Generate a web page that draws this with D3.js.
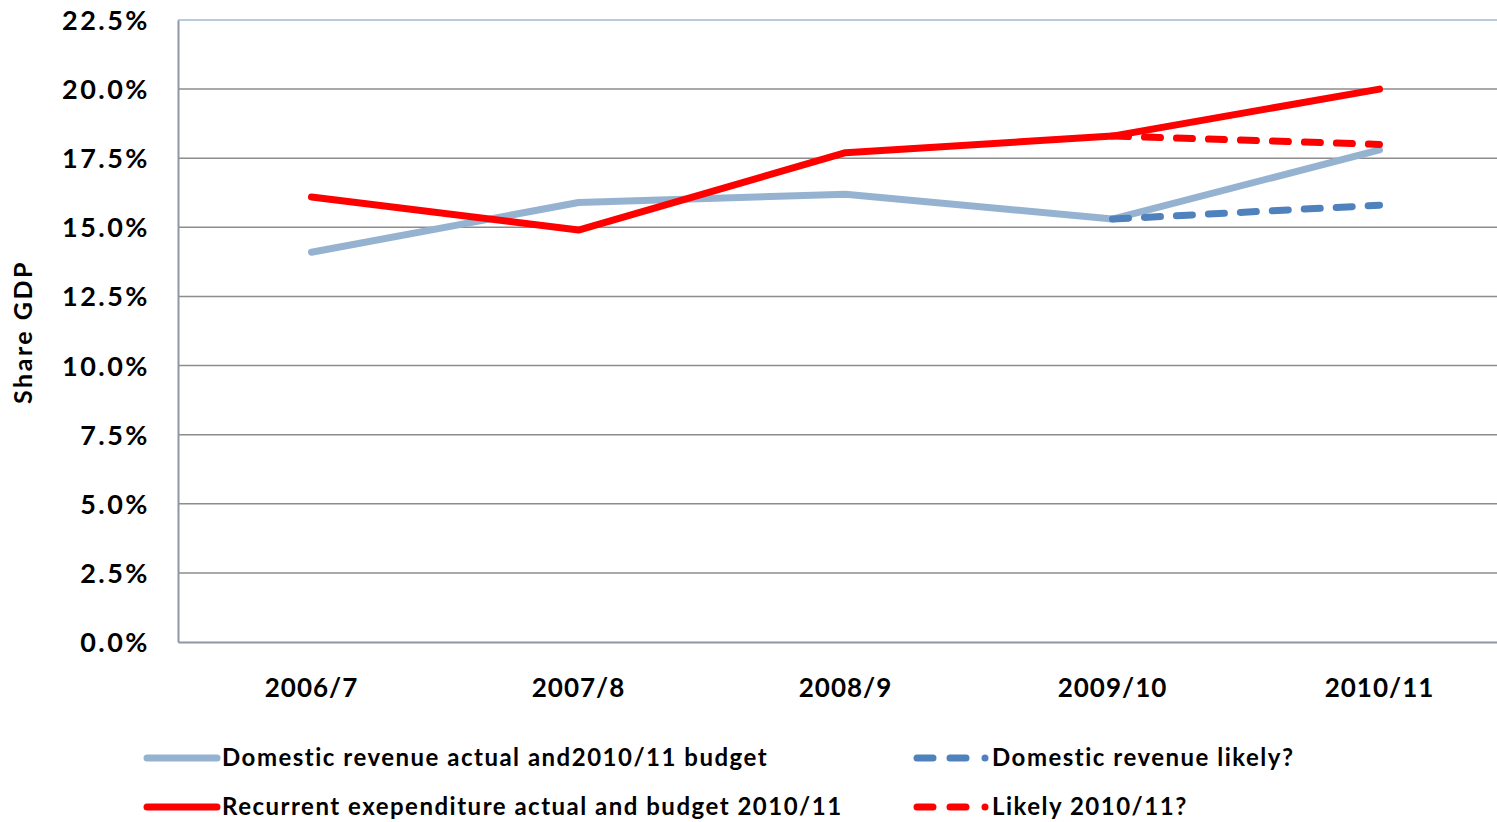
<!DOCTYPE html>
<html>
<head>
<meta charset="utf-8">
<script src="https://cdn.jsdelivr.net/npm/d3@7"></script>
<style>
  body { margin: 0; background: #fff; }
  svg text { font-family: "Lato", "DejaVu Sans", sans-serif; font-weight: 700; fill: #000; }
</style>
</head>
<body>
<div id="chart"></div>
<script>
// data (share of GDP, %)
const years = ["2006/7", "2007/8", "2008/9", "2009/10", "2010/11"];
const revenue = [14.1, 15.9, 16.2, 15.3, 17.8];
const expenditure = [16.1, 14.9, 17.7, 18.3, 20.0];
const revenueLikely = [null, null, null, 15.3, 15.8];
const expenditureLikely = [null, null, null, 18.3, 18.0];
const yTicks = [0, 2.5, 5, 7.5, 10, 12.5, 15, 17.5, 20, 22.5];

const series = [
  {name: "Domestic revenue actual and2010/11 budget", values: revenue, color: "#95b3d1", dash: null},
  {name: "Recurrent exependiture actual and budget 2010/11", values: expenditure, color: "#ff0000", dash: null},
  {name: "Domestic revenue likely?", values: revenueLikely, color: "#4f81bd", dash: "16,16"},
  {name: "Likely 2010/11?", values: expenditureLikely, color: "#ff0000", dash: "16,16"}
];

const W = 1497, H = 822;
const margin = {top: 20, right: -16, bottom: 180, left: 178};
const width = W - margin.left - margin.right,
    height = H - margin.top - margin.bottom;

const svg = d3.select("#chart")
  .append("svg")
    .attr("width", W)
    .attr("height", H);

const g = svg.append("g")
    .attr("transform", `translate(${margin.left},${margin.top})`);

const x = d3.scaleBand()
    .domain(years)
    .range([0, width]);

const y = d3.scaleLinear()
    .domain([0, 22.5])
    .range([height, 0]);

// gridlines
g.selectAll(".grid")
  .data(yTicks.filter(d => d > 0))
  .join("line")
    .attr("x1", 0)
    .attr("x2", width)
    .attr("y1", d => y(d))
    .attr("y2", d => y(d))
    .attr("stroke", d => d === 22.5 ? "#a3b9d0" : "#8c8c8c")
    .attr("stroke-width", 1.5);

// y axis
const yAxis = g.append("g")
    .call(d3.axisLeft(y).tickValues(yTicks).tickSize(0).tickPadding(28)
      .tickFormat(d => d3.format(".1f")(d) + "%"));
yAxis.select(".domain").attr("stroke", "#8e98a4").attr("stroke-width", 2);
yAxis.selectAll("text")
    .style("font-size", "27px")
    .style("letter-spacing", "2.5px")
    .attr("dy", "0.35em");

// x axis
const xAxis = g.append("g")
    .attr("transform", `translate(0,${height})`)
    .call(d3.axisBottom(x).tickSize(0).tickPadding(37));
xAxis.select(".domain").attr("stroke", "#8e98a4").attr("stroke-width", 2);
xAxis.selectAll("text")
    .style("font-size", "26px")
    .style("letter-spacing", "1px");

// y title
svg.append("text")
    .attr("transform", "rotate(-90)")
    .attr("x", -332)
    .attr("y", 32)
    .attr("text-anchor", "middle")
    .style("font-size", "25px")
    .style("letter-spacing", "2.5px")
    .text("Share GDP");

// lines
const line = d3.line()
    .defined(d => d != null)
    .x((d, i) => x(years[i]) + x.bandwidth() / 2)
    .y(d => y(d));

g.selectAll(".series")
  .data(series)
  .join("path")
    .attr("fill", "none")
    .attr("stroke", d => d.color)
    .attr("stroke-width", 7)
    .attr("stroke-linecap", "round")
    .attr("stroke-linejoin", "round")
    .attr("stroke-dasharray", d => d.dash)
    .attr("d", d => line(d.values));

// legend
const legendPos = [[147, 758], [147, 807], [917, 758], [917, 807]];
const legend = svg.selectAll(".legend")
  .data(series)
  .join("g")
    .attr("transform", (d, i) => `translate(${legendPos[i][0]},${legendPos[i][1]})`);

legend.append("line")
    .attr("x1", 0)
    .attr("x2", 70)
    .attr("stroke", d => d.color)
    .attr("stroke-width", 7)
    .attr("stroke-linecap", "round")
    .attr("stroke-dasharray", d => d.dash ? "16,17,16,19,0,50" : null);

legend.append("text")
    .attr("x", 75)
    .attr("dy", "0.35em")
    .style("font-size", "24px")
    .style("letter-spacing", "1.5px")
    .text(d => d.name);
</script>
</body>
</html>
